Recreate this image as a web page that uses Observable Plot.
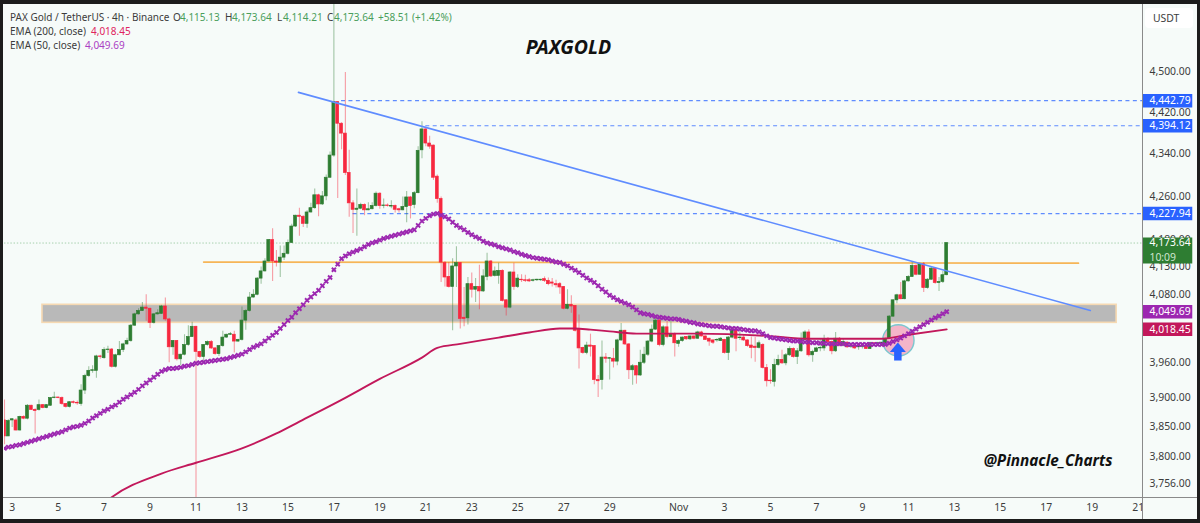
<!DOCTYPE html>
<html><head><meta charset="utf-8">
<script src="https://cdn.jsdelivr.net/npm/d3@7"></script>
<script src="https://cdn.jsdelivr.net/npm/@observablehq/plot@0.6"></script>
<style>
html,body{margin:0;padding:0;background:#1c1c1c;width:1200px;height:523px;overflow:hidden}
#panel{position:absolute;left:3px;top:4px;width:1194px;height:515px;background:#f6fbf9}
svg{position:absolute;left:0;top:0;background:transparent}
.t{position:absolute;font:10px "Noto Sans",sans-serif;color:#3c3c3c;white-space:nowrap;line-height:14px}
.g{color:#4a9e5c}.r{color:#e0245e}.p{color:#ab3fc4}
#vline{position:absolute;left:1142px;top:4px;width:1.4px;height:515px;background:#8a8a8a}
#hline{position:absolute;left:3px;top:497px;width:1194px;height:1.4px;background:#8a8a8a}
#corner{position:absolute;left:1143.4px;top:498.4px;width:53.6px;height:20.6px;background:#f6fbf9}
#usdt{position:absolute;left:1145px;top:8px;width:48px;height:20px;background:#fff;border-radius:4px;font:10.4px "Noto Sans",sans-serif;color:#3c3c3c;line-height:20px;text-indent:8px}
</style></head><body>
<div id="panel"></div>
<script>
const opens=[3861,3834,3861,3861,3844,3867,3864,3886,3879,3879,
3887,3882,3886,3899,3900,3899,3889,3884,3892,3891,
3889,3912,3937,3946,3946,3971,3968,3982,3983,3953,
3973,3982,3992,3998,4025,4045,4051,4057,4055,4030,
4045,4046,4059,4036,3987,3998,3966,3974,3991,4005,
4023,3979,3970,3991,3996,3985,3975,3989,4004,4009,
4009,3997,4000,4034,4051,4075,4080,4109,4122,4140,
4179,4140,4138,4147,4154,4174,4204,4224,4222,4209,
4230,4238,4262,4245,4260,4295,4337,4440,4398,4379,
4304,4247,4235,4237,4244,4234,4236,4242,4265,4242,
4243,4241,4242,4236,4234,4240,4258,4244,4266,4347,
4387,4360,4356,4297,4255,4137,4112,4094,4131,4137,
4039,4038,4099,4089,4094,4086,4112,4140,4114,4114,
4123,4070,4057,4120,4094,4107,4106,4106,4105,4106,
4106,4108,4105,4102,4099,4099,4094,4055,4062,4060,
4018,3986,3977,3990,3989,3930,3930,3969,3967,3967,
3962,3999,4016,3992,3947,3954,3938,3960,3974,3997,
4018,4034,3991,4022,4005,4010,3993,3998,4005,4001,
4006,4002,4013,4006,4002,3999,3999,3998,4000,3977,
4004,4018,4003,4004,3999,3990,3988,3986,3991,3951,
3929,3927,3956,3965,3959,3973,3984,3970,3980,4000,
4013,3973,3979,3985,3985,4000,3996,3980,4002,3990,
3995,3988,3990,3987,3988,3988,3984,3994,3993,3994,
3991,4002,4041,4070,4079,4072,4104,4112,4132,4116,
4135,4092,4107,4127,4101,4103,4115.13];
const highs=[3896,3862,3864,3864,3868,3869,3888,3887,3881,3896,
3888,3888,3900,3909,3901,3901,3890,3893,3894,3894,
3922,3940,3953,3955,3973,3973,3986,3989,3985,3975,
3997,3994,4003,4027,4047,4055,4066,4080,4056,4046,
4053,4061,4074,4038,3999,3999,3975,4009,4025,4031,
4024,3980,3992,3998,3999,3986,3990,4015,4010,4013,
4015,4001,4058,4053,4084,4089,4111,4130,4145,4180,
4200,4160,4168,4168,4179,4208,4225,4238,4224,4233,
4247,4274,4264,4269,4300,4344,4660,4441,4400,4498,
4347,4252,4274,4247,4246,4248,4248,4268,4267,4255,
4246,4252,4244,4238,4259,4269,4260,4269,4354,4402,
4391,4374,4357,4300,4259,4140,4138,4145,4167,4138,
4093,4111,4119,4109,4133,4125,4155,4142,4130,4137,
4125,4071,4122,4137,4116,4116,4115,4109,4108,4108,
4108,4112,4110,4109,4106,4102,4095,4089,4078,4061,
4044,3987,3996,4010,3990,3938,3998,3976,3969,3985,
4001,4029,4017,3993,3957,3955,3982,3987,3999,4026,
4043,4038,4025,4033,4033,4012,4000,4005,4006,4007,
4007,4015,4015,4007,4003,4000,4002,4004,4001,4006,
4022,4022,4022,4008,4000,4005,4004,3998,3993,3957,
3948,3966,3973,3982,3976,3988,3986,3985,4012,4016,
4018,3982,3987,4000,4008,4004,3998,4013,4004,4002,
3997,3992,3991,3990,3990,3990,3996,3995,3996,3996,
4003,4043,4071,4081,4102,4106,4114,4140,4134,4137,
4138,4109,4129,4129,4111,4122,4173.64];
const lows=[3820,3834,3849,3843,3843,3862,3862,3878,3838,3877,
3881,3881,3885,3898,3898,3887,3882,3882,3889,3887,
3885,3905,3935,3942,3933,3966,3966,3976,3951,3951,
3972,3978,3991,3996,4024,4044,4050,4033,4020,4028,
4044,4045,4033,3960,3973,3963,3955,3972,3989,4004,
3700,3968,3959,3989,3983,3973,3971,3987,4003,4008,
3977,3996,3998,4017,4049,4074,4078,4099,4121,4139,
4104,4130,4111,4142,4152,4173,4202,4186,4202,4201,
4229,4236,4222,4243,4252,4294,4334,4256,4348,4299,
4221,4191,4186,4235,4224,4233,4235,4240,4236,4237,
4240,4237,4229,4229,4233,4211,4218,4237,4265,4331,
4354,4349,4290,4247,4102,4094,4092,4016,4093,4019,
4023,4026,4074,4066,4053,4084,4105,4111,4112,4099,
4067,4042,4055,4088,4091,4102,4102,4102,4103,4104,
4104,4102,4096,4094,4092,4081,4053,4053,4047,4014,
3949,3975,3974,3970,3922,3900,3913,3959,3930,3951,
3955,3997,3990,3931,3921,3923,3936,3957,3971,3995,
4017,3988,3988,4002,4004,3970,3987,3996,3999,3999,
4000,4001,4005,3999,3989,3992,3996,3997,3975,3964,
4002,3979,3999,3997,3987,3967,3961,3984,3949,3918,
3923,3918,3954,3957,3955,3971,3968,3957,3978,3999,
3970,3961,3978,3979,3980,3994,3974,3978,3988,3988,
3985,3985,3983,3982,3984,3983,3983,3991,3992,3992,
3989,4001,4040,4064,4071,4071,4103,4111,4114,4115,
4084,4090,4106,4099,4086,4100,4114.21];
const closes=[3834,3860,3863,3844,3867,3864,3886,3879,3877,3887,
3882,3887,3899,3900,3899,3889,3884,3892,3891,3890,
3912,3937,3946,3947,3971,3970,3982,3983,3953,3973,
3982,3992,3998,4025,4045,4051,4057,4055,4030,4045,
4047,4059,4036,3987,3998,3966,3974,3991,4005,4023,
3979,3970,3991,3996,3985,3975,3989,4004,4009,4010,
3997,4000,4034,4051,4075,4080,4109,4122,4140,4179,
4140,4138,4147,4154,4174,4204,4224,4222,4209,4230,
4238,4262,4245,4260,4295,4337,4440,4398,4379,4304,
4247,4235,4237,4244,4234,4236,4242,4265,4242,4243,
4242,4242,4235,4234,4240,4258,4242,4266,4346,4387,
4360,4354,4295,4255,4138,4111,4094,4131,4137,4037,
4037,4099,4089,4094,4086,4113,4140,4113,4122,4123,
4069,4057,4120,4094,4109,4106,4105,4104,4106,4107,
4107,4105,4099,4100,4097,4093,4055,4062,4059,4016,
3985,3977,3990,3988,3930,3928,3969,3967,3968,3962,
3999,4016,3992,3947,3954,3938,3960,3974,3997,4018,
4034,3991,4022,4005,4010,3994,3998,4004,4001,4006,
4002,4013,4006,4000,3997,3995,4000,4002,3977,4004,
4018,4002,4004,3999,3989,3986,3986,3994,3951,3928,
3928,3956,3965,3959,3973,3984,3970,3980,4000,4013,
3973,3979,3985,3986,4000,3996,3980,4002,3990,3996,
3987,3990,3985,3988,3989,3984,3994,3993,3994,3995,
4002,4041,4070,4079,4072,4104,4112,4132,4116,4135,
4092,4107,4127,4101,4103,4115.13,4173.64];
const ema50=[3814,3816,3817,3819,3820,3822,3824,3826,3828,3830,
3832,3834,3836,3838,3840,3842,3845,3848,3850,3851,
3853,3856,3860,3865,3869,3873,3877,3880,3884,3887,
3892,3897,3901,3905,3909,3914,3920,3925,3930,3935,
3940,3945,3948,3950,3950,3951,3952,3954,3955,3957,
3959,3960,3961,3962,3963,3964,3965,3966,3967,3969,
3971,3973,3975,3979,3983,3987,3990,3993,3998,4003,
4008,4013,4020,4027,4034,4040,4048,4055,4062,4070,
4076,4082,4088,4096,4104,4111,4125,4135,4145,4150,
4154,4157,4160,4163,4167,4171,4174,4176,4179,4182,
4184,4186,4188,4190,4192,4194,4196,4198,4206,4214,
4219,4224,4227,4228,4225,4222,4218,4212,4206,4202,
4198,4193,4189,4185,4182,4177,4174,4172,4170,4167,
4165,4163,4161,4158,4156,4153,4151,4149,4147,4146,
4145,4144,4143,4141,4139,4138,4135,4132,4128,4124,
4120,4115,4110,4106,4102,4096,4090,4085,4079,4075,
4071,4068,4065,4062,4058,4053,4048,4046,4045,4043,
4041,4040,4039,4038,4037,4037,4036,4034,4033,4031,
4030,4028,4027,4026,4025,4024,4024,4023,4022,4021,
4020,4020,4019,4018,4017,4016,4016,4014,4011,4007,
4004,4003,4002,4001,4000,3999,3998,3998,3997,3996,
3996,3995,3995,3994,3994,3993,3993,3993,3993,3993,
3992,3992,3992,3992,3992,3992,3992,3992,3992,3992,
3992,3994,3997,4000,4003,4007,4011,4015,4019,4023,
4027,4031,4035,4039,4042,4046,4049.69];
const ema200Candle=[24,28,41,50,62,71,77,88,98,109,113,119,129,137,145,149,153,158,165,175,181,199,210,229,236,246];
const ema200=[3712,3733,3772,3790,3814,3839,3859,3896,3932,3969,3986,3993,4004,4013,4020,4020,4018,4015,4011,4011,4011,4007,4002,4002,4009,4018.45];
const yTicks=[4500,4420,4340,4260,4180,4130,4080,3960,3900,3850,3800,3756];
const tickDates=["2025-10-03","2025-10-05","2025-10-07","2025-10-09","2025-10-11","2025-10-13","2025-10-15","2025-10-17","2025-10-19","2025-10-21","2025-10-23","2025-10-25","2025-10-27","2025-10-29","2025-11-01","2025-11-03","2025-11-05","2025-11-07","2025-11-09","2025-11-11","2025-11-13","2025-11-15","2025-11-17","2025-11-19","2025-11-21"];
const tickLabels=["3","5","7","9","11","13","15","17","19","21","23","25","27","29","Nov","3","5","7","9","11","13","15","17","19","21"];
const trendDates=["2025-10-15T11:00Z","2025-11-18T22:00Z"], trendPrices=[4459,4052];
const orangeDates=["2025-10-11T08:00Z","2025-11-18T09:36Z"], orangePrices=[4139,4137];
const zoneDates=["2025-10-04T07:40Z","2025-11-20T01:30Z"], zonePrices=[4030,4062];
const levelPrices=[4442.79,4394.12,4227.94];
const levelStarts=["2025-10-17T08:00Z","2025-10-21T00:00Z","2025-10-17T20:00Z"];
const levelEnd="2025-11-21T04:30Z";
const lastPrice=4173.64;
const circleDate="2025-11-10T13:30Z", circlePrice=3999;
const arrowDate="2025-11-10T13:00Z", arrowShaft=[3963,3979], arrowHeadPrice=3987;
const tagStart="2025-11-21T04:30Z", tagEnd="2025-11-23T09:00Z", tagText="2025-11-21T11:45Z";
const tags=[{p:4442.79,c:"#2962ff"},{p:4394.12,c:"#2962ff"},{p:4227.94,c:"#2962ff"},{p:4049.69,c:"#9c27b0"},{p:4018.45,c:"#c2185b"}];
const start=Date.UTC(2025,9,2,16), H=3600e3;
const d=v=>new Date(v);
const candles=opens.map((o,i)=>({t:new Date(start+i*4*H),o,h:highs[i],l:lows[i],c:closes[i],e:ema50[i]}));
const up=candles.filter(c=>c.c>=c.o), dn=candles.filter(c=>c.c<c.o);
const slow=ema200.map((v,i)=>({t:new Date(start+ema200Candle[i]*4*H),v}));
const f=d3.format(",.2f");
const labelByTime=new Map(tickDates.map((s,i)=>[+new Date(s+"T00:00Z"),tickLabels[i]]));
const green="#2e7d32", red="#f7283f", font='"Noto Sans",sans-serif';
const wide={draw(ctx,size){const r=Math.sqrt(size/Math.PI);ctx.moveTo(0,-r*.6);ctx.lineTo(r,r*.6);ctx.lineTo(-r,r*.6);ctx.closePath();}};
const wick=(data,color,op)=>Plot.ruleX(data,{x:"t",y1:"l",y2:"h",stroke:color,strokeWidth:1.1,strokeOpacity:op,clip:true});
const body=(data,color)=>Plot.rect(data,{x1:c=>new Date(+c.t-1.5*H),x2:c=>new Date(+c.t+1.5*H),y1:"o",y2:"c",fill:color,stroke:color,strokeWidth:.7,clip:true});
const plot=Plot.plot({
  width:1200,height:523,marginLeft:4,marginRight:58,marginTop:4,marginBottom:26,
  style:{background:"transparent",fontFamily:font},
  x:{type:"utc",domain:[new Date(start),d(levelEnd)],label:null},
  y:{type:"log",domain:[3732.6,4634.3],label:null},
  marks:[
    Plot.rect([0],{x1:()=>d(zoneDates[0]),x2:()=>d(zoneDates[1]),y1:()=>zonePrices[0],y2:()=>zonePrices[1],fill:"#b9b9b9",stroke:"#f6d9b2",strokeWidth:1.6}),
    Plot.ruleY([lastPrice],{stroke:"#6fb37a",strokeOpacity:.6,strokeDasharray:"1.4 1.8",strokeWidth:1}),
    Plot.line([0,1],{x:i=>d(orangeDates[i]),y:i=>orangePrices[i],stroke:"#f6b557",strokeWidth:1.7}),
    Plot.ruleY(levelPrices,{x1:(p,i)=>d(levelStarts[i]),x2:()=>d(levelEnd),y:p=>p,stroke:"#5f8cff",strokeWidth:1.2,strokeDasharray:"4 3.4"}),
    Plot.dot([0],{x:()=>d(circleDate),y:()=>circlePrice,r:15.7,fill:"#f4b5c9",stroke:"#7cc7cf",strokeWidth:1.4}),
    wick(up,green,.42),wick(dn,red,.45),
    body(up,green),body(dn,red),
    Plot.line(slow,{x:"t",y:"v",stroke:"#c2185b",strokeWidth:1.9,curve:"monotone-x",clip:true}),
    Plot.dot(candles,{x:"t",y:"e",symbol:"times",r:2,stroke:"#9c27b0",strokeWidth:1.9,clip:true}),
    Plot.ruleX([0],{x:()=>d(arrowDate),y1:()=>arrowShaft[0],y2:()=>arrowShaft[1],stroke:"#2962ff",strokeWidth:7.5}),
    Plot.dot([0],{x:()=>d(arrowDate),y:()=>arrowHeadPrice,r:8,symbol:wide,fill:"#2962ff",stroke:"none"}),
    Plot.line([0,1],{x:i=>d(trendDates[i]),y:i=>trendPrices[i],stroke:"#5f8cff",strokeWidth:1.6}),
    Plot.text(["PAXGOLD"],{x:()=>d("2025-10-27T05:00Z"),y:()=>4548,fontSize:19.5,fontWeight:700,fontStyle:"italic",fontFamily:font,fill:"#111"}),
    Plot.text(["@Pinnacle_Charts"],{x:()=>d("2025-11-17T02:00Z"),y:()=>3792,fontSize:15.3,fontWeight:700,fontStyle:"italic",fontFamily:font,fill:"#111"}),
    Plot.axisY(yTicks,{anchor:"right",tickSize:0,tickPadding:7,tickFormat:v=>f(v),fontSize:10.4,fill:"#3c3c3c",label:null}),
    Plot.axisX(tickDates.map(s=>new Date(s+"T00:00Z")),{anchor:"bottom",tickSize:0,tickPadding:6,tickFormat:v=>labelByTime.get(+v),fontSize:10.4,fill:"#3c3c3c",label:null}),
    Plot.ruleY(tags,{x1:()=>d(tagStart),x2:()=>d(tagEnd),y:"p",stroke:"c",strokeWidth:13.5}),
    Plot.text(tags,{x:()=>d(tagText),y:"p",text:t=>f(t.p),fill:"#fff",textAnchor:"start",fontSize:10.4}),
    Plot.ruleY([4160],{x1:()=>d(tagStart),x2:()=>d(tagEnd),y:p=>p,stroke:green,strokeWidth:26}),
    Plot.text([lastPrice],{x:()=>d(tagText),y:p=>p,text:p=>f(p),fill:"#fff",textAnchor:"start",fontSize:10.4}),
    Plot.text(["10:09"],{x:()=>d(tagText),y:()=>4147,fill:"#cfe5d0",textAnchor:"start",fontSize:10.4})
  ]
});
document.body.appendChild(plot);
const add=(id,cls,txt,st)=>{const e=document.createElement("div");if(id)e.id=id;if(cls)e.className=cls;if(txt)e.textContent=txt;if(st)Object.assign(e.style,st);document.body.appendChild(e);};
add("vline");add("hline");add("corner");add("usdt",null,"USDT");
const legend=[["PAX Gold / TetherUS · 4h · Binance",10,10,""],["O",173,10,""],["4,115.13",180,10,"g"],["H",225,10,""],["4,173.64",232,10,"g"],["L",277,10,""],["4,114.21",283,10,"g"],["C",327,10,""],["4,173.64",334,10,"g"],["+58.51 (+1.42%)",378,10,"g"],["EMA (200, close)",10,24,""],["4,018.45",91,24,"r"],["EMA (50, close)",10,38,""],["4,049.69",85,38,"p"]];
legend.forEach(([t,x,y,c])=>add(null,"t "+c,t,{left:x+"px",top:y+"px"}));
</script>
</body></html>
